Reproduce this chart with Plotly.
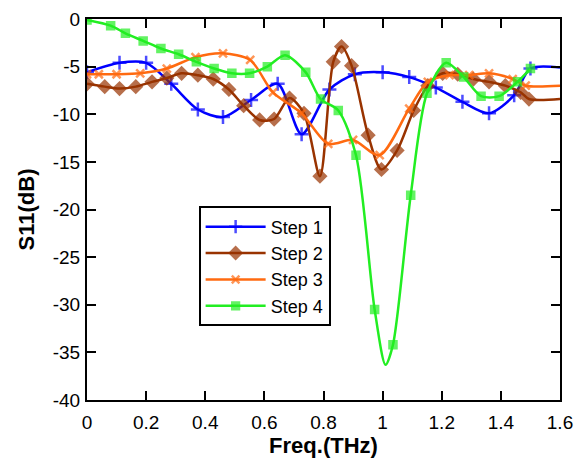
import plotly.graph_objects as go

# Step 1 (blue)
s1_x = [0.0, 0.11, 0.20, 0.285, 0.375, 0.46, 0.555, 0.645, 0.726, 0.82, 0.906, 1.0, 1.09, 1.18, 1.27, 1.36, 1.445, 1.50, 1.6]
s1_y = [-5.6, -4.6, -4.6, -6.8, -9.5, -10.3, -8.5, -6.8, -12.1, -7.4, -5.8, -5.6, -6.1, -7.2, -8.7, -9.9, -8.0, -5.2, -5.1]

# Step 2 (brown)
s2_x = [0.0, 0.06, 0.11, 0.165, 0.22, 0.27, 0.32, 0.375, 0.427, 0.48, 0.53, 0.584, 0.633, 0.685, 0.734, 0.788,
        0.833, 0.861, 0.895, 0.951, 0.996, 1.049, 1.105, 1.153, 1.203, 1.254, 1.307, 1.36, 1.415, 1.467, 1.495, 1.6]
s2_y = [-6.8, -7.1, -7.3, -7.1, -6.6, -6.2, -5.7, -5.9, -6.3, -7.4, -9.1, -10.6, -10.5, -8.3, -9.9, -16.5,
        -4.5, -2.9, -4.9, -12.2, -15.8, -13.8, -9.6, -7.0, -5.7, -5.8, -6.3, -6.6, -7.0, -7.7, -8.4, -8.4]

# Step 3 (orange)
s3_x = [0.0, 0.04, 0.10, 0.18, 0.27, 0.367, 0.46, 0.552, 0.629, 0.726, 0.816, 0.90, 0.99, 1.09, 1.153, 1.226,
        1.293, 1.36, 1.44, 1.484, 1.6]
s3_y = [-5.8, -5.8, -5.8, -5.7, -5.2, -4.0, -3.6, -4.3, -7.7, -9.9, -13.1, -12.7, -14.3, -9.4, -6.6, -5.9,
        -5.9, -5.7, -6.3, -7.0, -7.0]

# Step 4 (green)
s4_x = [0.0, 0.08, 0.13, 0.19, 0.25, 0.31, 0.37, 0.43, 0.49, 0.55, 0.61, 0.67, 0.74, 0.79, 0.85, 0.91,
        0.973, 1.01, 1.035, 1.095, 1.15, 1.215, 1.274, 1.333, 1.394, 1.456, 1.50]
s4_y = [-0.1, -0.7, -1.5, -2.3, -3.1, -3.7, -4.5, -5.2, -5.7, -5.7, -5.0, -3.8, -5.6, -8.4, -9.6, -14.3,
        -30.5, -36.3, -34.2, -18.5, -7.8, -4.6, -6.1, -8.1, -8.1, -6.6, -5.2]

x_ticks = [0, 0.2, 0.4, 0.6, 0.8, 1.0, 1.2, 1.4, 1.6]
x_tick_labels = ["0", "0.2", "0.4", "0.6", "0.8", "1", "1.2", "1.4", "1.6"]
y_ticks = [0, -5, -10, -15, -20, -25, -30, -35, -40]
y_tick_labels = ["0", "-5", "-10", "-15", "-20", "-25", "-30", "-35", "-40"]

series = [
    ("Step 1", s1_x, s1_y, "#0000FF", "cross-thin-open", 10, {1.6}),
    ("Step 2", s2_x, s2_y, "#993300", "diamond", 9, {1.6}),
    ("Step 3", s3_x, s3_y, "#FF6A10", "x-thin-open", 8, {1.6}),
    ("Step 4", s4_x, s4_y, "#22EE22", "square", 7, {1.01}),
]

FONT = "Liberation Sans, Arial"

fig = go.Figure()
for name, xs, ys, color, sym, msize, nomark in series:
    sizes = [0 if x in nomark else msize for x in xs]
    fig.add_trace(go.Scatter(
        x=xs, y=ys, name=name, mode="lines+markers",
        line=dict(color=color, width=2.5, shape="spline", smoothing=0.8),
        marker=dict(symbol=sym, size=sizes, color=color,
                    line=dict(color=color, width=2.5)),
    ))

axis_common = dict(
    showline=True, linecolor="black", linewidth=2, mirror="ticks",
    ticks="inside", ticklen=9, tickwidth=2, tickcolor="black",
    showgrid=False, zeroline=False, automargin=False,
    tickfont=dict(family=FONT, size=19, color="black"),
)

fig.update_xaxes(range=[0, 1.6], tickvals=x_ticks, ticktext=x_tick_labels,
                 ticklabelstandoff=4,
                 title=dict(text="<b>Freq.(THz)</b>", font=dict(family=FONT, size=22, color="black"), standoff=4),
                 **axis_common)
fig.update_yaxes(range=[-40, 0], tickvals=y_ticks, ticktext=y_tick_labels,
                 ticklabelstandoff=1,
                 title=dict(text="<b>S11(dB)</b>", font=dict(family=FONT, size=22, color="black"), standoff=12),
                 **axis_common)

fig.update_layout(
    width=574, height=463,
    margin=dict(l=87, r=14, t=19, b=63),
    paper_bgcolor="white", plot_bgcolor="white",
    showlegend=True,
    legend=dict(x=0.236, y=0.508, xanchor="left", yanchor="top",
                bgcolor="white", bordercolor="black", borderwidth=2,
                font=dict(family=FONT, size=18, color="black"),
                tracegroupgap=0, itemwidth=60),
)

fig.write_html("out.html", config={"displayModeBar": False},
               post_script="document.body.style.margin='0';document.body.style.overflow='hidden';")
